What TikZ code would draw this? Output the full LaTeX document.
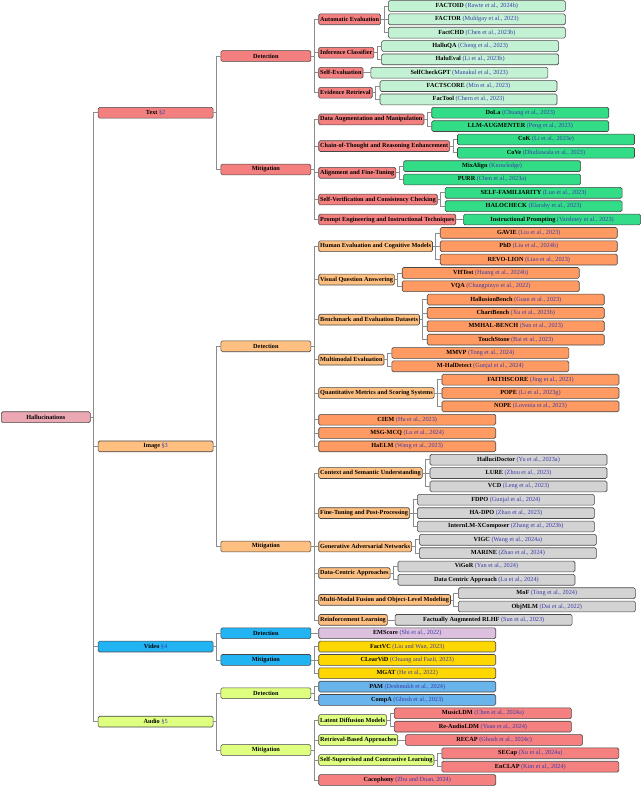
\documentclass[tikz,border=0pt]{standalone}
\usepackage{fontspec}
\setmainfont{Liberation Serif}
\usetikzlibrary{calc}
\definecolor{citeblue}{HTML}{3A3AA8}
\definecolor{rootc}{HTML}{ECA8B2}
\definecolor{textc}{HTML}{F47F7F}
\definecolor{tdl}{HTML}{C3F1D3}
\definecolor{tml}{HTML}{33DD88}
\definecolor{imgc}{HTML}{FFBF80}
\definecolor{idl}{HTML}{FF9A62}
\definecolor{iml}{HTML}{D3D3D3}
\definecolor{vidc}{HTML}{22B4F2}
\definecolor{vdl}{HTML}{DCC0DE}
\definecolor{vml}{HTML}{FFD700}
\definecolor{audc}{HTML}{DFFF80}
\definecolor{adl}{HTML}{6AB4EC}
\definecolor{aml}{HTML}{F48080}
\definecolor{edgec}{HTML}{8C8C8C}
\newcommand\cit[1]{\textcolor{citeblue}{\mdseries(#1)}}
\newcommand\sect[1]{\textcolor{citeblue}{\mdseries\S#1}}
\newcommand\nd[6]{%
  \pgfmathsetmacro\yy{-(6+(#3-1)*13.345)}%
  \coordinate (tmp) at ([xshift=7.2pt]#2.east);%
  \node[#4, fill=#5] (#1) at (tmp |- 0,\yy) {#6};%
  \draw[edge] (#2.east) -- ++(3,0) |- (#1.west);%
}
\tikzset{
  box/.style={draw=black!72, line width=0.6pt, rounded corners=1.5pt,
    minimum height=10.8pt, inner xsep=1.5pt, inner ysep=0.5pt, anchor=west,
    font=\fontsize{6.25}{7}\selectfont\bfseries, text=black},
  rootbox/.style={box, minimum width=89pt},
  lone/.style={box, minimum width=115pt},
  ltwo/.style={box, minimum width=90pt},
  cat/.style={box},
  leaf/.style={box, minimum width=177pt},
  edge/.style={draw=edgec, line width=0.7pt},
}
\begin{document}
\begin{tikzpicture}[x=1pt,y=1pt]
\useasboundingbox (0,0) rectangle (640,-787);
\pgfmathsetmacro\yy{-(6+(31.8125-1)*13.345)}
\node[rootbox, fill=rootc] (root) at (1,\yy) {Hallucinations};
% ---------- Text
\nd{T}{root}{9}{lone}{textc}{Text \sect{2}}
\nd{TD}{T}{4.75}{ltwo}{textc}{Detection}
\nd{TM}{T}{13.25}{ltwo}{textc}{Mitigation}
\nd{TD1}{TD}{2}{cat}{textc}{Automatic Evaluation}
\nd{TD2}{TD}{4.5}{cat}{textc}{Inference Classifier}
\nd{TD3}{TD}{6}{cat}{textc}{Self-Evaluation}
\nd{TD4}{TD}{7.5}{cat}{textc}{Evidence Retrieval}
\nd{l1}{TD1}{1}{leaf}{tdl}{FACTOID \cit{Rawte et al., 2024b}}
\nd{l2}{TD1}{2}{leaf}{tdl}{FACTOR \cit{Muhlgay et al., 2023}}
\nd{l3}{TD1}{3}{leaf}{tdl}{FactCHD \cit{Chen et al., 2023b}}
\nd{l4}{TD2}{4}{leaf}{tdl}{HalluQA \cit{Cheng et al., 2023}}
\nd{l5}{TD2}{5}{leaf}{tdl}{HaluEval \cit{Li et al., 2023b}}
\nd{l6}{TD3}{6}{leaf}{tdl}{SelfCheckGPT \cit{Manakul et al., 2023}}
\nd{l7}{TD4}{7}{leaf}{tdl}{FACTSCORE \cit{Min et al., 2023}}
\nd{l8}{TD4}{8}{leaf}{tdl}{FacTool \cit{Chern et al., 2023}}
\nd{TM1}{TM}{9.5}{cat}{textc}{Data Augmentation and Manipulation}
\nd{TM2}{TM}{11.5}{cat}{textc}{Chain-of-Thought and Reasoning Enhancement}
\nd{TM3}{TM}{13.5}{cat}{textc}{Alignment and Fine-Tuning}
\nd{TM4}{TM}{15.5}{cat}{textc}{Self-Verification and Consistency Checking}
\nd{TM5}{TM}{17}{cat}{textc}{Prompt Engineering and Instructional Techniques}
\nd{l9}{TM1}{9}{leaf}{tml}{DoLa \cit{Chuang et al., 2023}}
\nd{l10}{TM1}{10}{leaf}{tml}{LLM-AUGMENTER \cit{Peng et al., 2023}}
\nd{l11}{TM2}{11}{leaf}{tml}{CoK \cit{Li et al., 2023e}}
\nd{l12}{TM2}{12}{leaf}{tml}{CoVe \cit{Dhuliawala et al., 2023}}
\nd{l13}{TM3}{13}{leaf}{tml}{MixAlign \cit{Knowledge}}
\nd{l14}{TM3}{14}{leaf}{tml}{PURR \cit{Chen et al., 2023a}}
\nd{l15}{TM4}{15}{leaf}{tml}{SELF-FAMILIARITY \cit{Luo et al., 2023}}
\nd{l16}{TM4}{16}{leaf}{tml}{HALOCHECK \cit{Elaraby et al., 2023}}
\nd{l17}{TM5}{17}{leaf}{tml}{Instructional Prompting \cit{Varshney et al., 2023}}
% ---------- Image
\nd{I}{root}{34}{lone}{imgc}{Image \sect{3}}
\nd{ID}{I}{26.5}{ltwo}{imgc}{Detection}
\nd{IM}{I}{41.5}{ltwo}{imgc}{Mitigation}
\nd{ID1}{ID}{19}{cat}{imgc}{Human Evaluation and Cognitive Models}
\nd{ID2}{ID}{21.5}{cat}{imgc}{Visual Question Answering}
\nd{ID3}{ID}{24.5}{cat}{imgc}{Benchmark and Evaluation Datasets}
\nd{ID4}{ID}{27.5}{cat}{imgc}{Multimodal Evaluation}
\nd{ID5}{ID}{30}{cat}{imgc}{Quantitative Metrics and Scoring Systems}
\nd{l18}{ID1}{18}{leaf}{idl}{GAVIE \cit{Liu et al., 2023}}
\nd{l19}{ID1}{19}{leaf}{idl}{PhD \cit{Liu et al., 2024b}}
\nd{l20}{ID1}{20}{leaf}{idl}{REVO-LION \cit{Liao et al., 2023}}
\nd{l21}{ID2}{21}{leaf}{idl}{VHTest \cit{Huang et al., 2024b}}
\nd{l22}{ID2}{22}{leaf}{idl}{VQA \cit{Changpinyo et al., 2022}}
\nd{l23}{ID3}{23}{leaf}{idl}{HallusionBench \cit{Guan et al., 2023}}
\nd{l24}{ID3}{24}{leaf}{idl}{ChartBench \cit{Xu et al., 2023b}}
\nd{l25}{ID3}{25}{leaf}{idl}{MMHAL-BENCH \cit{Sun et al., 2023}}
\nd{l26}{ID3}{26}{leaf}{idl}{TouchStone \cit{Bai et al., 2023}}
\nd{l27}{ID4}{27}{leaf}{idl}{MMVP \cit{Tong et al., 2024}}
\nd{l28}{ID4}{28}{leaf}{idl}{M-HalDetect \cit{Gunjal et al., 2024}}
\nd{l29}{ID5}{29}{leaf}{idl}{FAITHSCORE \cit{Jing et al., 2023}}
\nd{l30}{ID5}{30}{leaf}{idl}{POPE \cit{Li et al., 2023g}}
\nd{l31}{ID5}{31}{leaf}{idl}{NOPE \cit{Lovenia et al., 2023}}
\nd{l32}{ID}{32}{leaf}{idl}{CIEM \cit{Hu et al., 2023}}
\nd{l33}{ID}{33}{leaf}{idl}{MSG-MCQ \cit{Lu et al., 2024}}
\nd{l34}{ID}{34}{leaf}{idl}{HaELM \cit{Wang et al., 2023}}
\nd{IM1}{IM}{36}{cat}{imgc}{Context and Semantic Understanding}
\nd{IM2}{IM}{39}{cat}{imgc}{Fine-Tuning and Post-Processing}
\nd{IM3}{IM}{41.5}{cat}{imgc}{Generative Adversarial Networks}
\nd{IM4}{IM}{43.5}{cat}{imgc}{Data-Centric Approaches}
\nd{IM5}{IM}{45.5}{cat}{imgc}{Multi-Modal Fusion and Object-Level Modeling}
\nd{IM6}{IM}{47}{cat}{imgc}{Reinforcement Learning}
\nd{l35}{IM1}{35}{leaf}{iml}{HalluciDoctor \cit{Yu et al., 2023a}}
\nd{l36}{IM1}{36}{leaf}{iml}{LURE \cit{Zhou et al., 2023}}
\nd{l37}{IM1}{37}{leaf}{iml}{VCD \cit{Leng et al., 2023}}
\nd{l38}{IM2}{38}{leaf}{iml}{FDPO \cit{Gunjal et al., 2024}}
\nd{l39}{IM2}{39}{leaf}{iml}{HA-DPO \cit{Zhao et al., 2023}}
\nd{l40}{IM2}{40}{leaf}{iml}{InternLM-XComposer \cit{Zhang et al., 2023b}}
\nd{l41}{IM3}{41}{leaf}{iml}{VIGC \cit{Wang et al., 2024a}}
\nd{l42}{IM3}{42}{leaf}{iml}{MARINE \cit{Zhao et al., 2024}}
\nd{l43}{IM4}{43}{leaf}{iml}{ViGoR \cit{Yan et al., 2024}}
\nd{l44}{IM4}{44}{leaf}{iml}{Data Centric Approach \cit{Lu et al., 2024}}
\nd{l45}{IM5}{45}{leaf}{iml}{MoF \cit{Tong et al., 2024}}
\nd{l46}{IM5}{46}{leaf}{iml}{ObjMLM \cit{Dai et al., 2022}}
\nd{l47}{IM6}{47}{leaf}{iml}{Factually Augmented RLHF \cit{Sun et al., 2023}}
% ---------- Video
\nd{V}{root}{49}{lone}{vidc}{Video \sect{4}}
\nd{VD}{V}{48}{ltwo}{vidc}{Detection}
\nd{VM}{V}{50}{ltwo}{vidc}{Mitigation}
\nd{l48}{VD}{48}{leaf}{vdl}{EMScore \cit{Shi et al., 2022}}
\nd{l49}{VM}{49}{leaf}{vml}{FactVC \cit{Liu and Wan, 2023}}
\nd{l50}{VM}{50}{leaf}{vml}{CLearViD \cit{Chuang and Fazli, 2023}}
\nd{l51}{VM}{51}{leaf}{vml}{MGAT \cit{He et al., 2022}}
% ---------- Audio
\nd{A}{root}{54.625}{lone}{audc}{Audio \sect{5}}
\nd{AD}{A}{52.5}{ltwo}{audc}{Detection}
\nd{AM}{A}{56.75}{ltwo}{audc}{Mitigation}
\nd{l52}{AD}{52}{leaf}{adl}{PAM \cit{Deshmukh et al., 2024}}
\nd{l53}{AD}{53}{leaf}{adl}{CompA \cit{Ghosh et al., 2023}}
\nd{AM1}{AM}{54.5}{cat}{audc}{Latent Diffusion Models}
\nd{AM2}{AM}{56}{cat}{audc}{Retrieval-Based Approaches}
\nd{AM3}{AM}{57.5}{cat}{audc}{Self-Supervised and Contrastive Learning}
\nd{l54}{AM1}{54}{leaf}{aml}{MusicLDM \cit{Chen et al., 2024a}}
\nd{l55}{AM1}{55}{leaf}{aml}{Re-AudioLDM \cit{Yuan et al., 2024}}
\nd{l56}{AM2}{56}{leaf}{aml}{RECAP \cit{Ghosh et al., 2024c}}
\nd{l57}{AM3}{57}{leaf}{aml}{SECap \cit{Xu et al., 2024a}}
\nd{l58}{AM3}{58}{leaf}{aml}{EnCLAP \cit{Kim et al., 2024}}
\nd{l59}{AM}{59}{leaf}{aml}{Cacophony \cit{Zhu and Duan, 2024}}
\end{tikzpicture}
\end{document}
